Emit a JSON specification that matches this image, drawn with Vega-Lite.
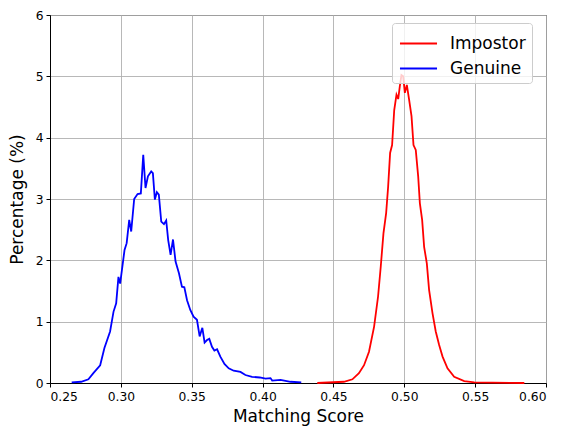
{
  "$schema": "https://vega.github.io/schema/vega-lite/v6.json",
  "autosize": "none",
  "width": 496,
  "height": 368,
  "padding": {"left": 50, "top": 15, "right": 22, "bottom": 53},
  "background": "white",
  "config": {
    "font": "DejaVu Sans",
    "view": {"stroke": "black", "strokeWidth": 1},
    "axis": {
      "gridColor": "#b0b0b0",
      "gridWidth": 0.9,
      "gridOpacity": 1,
      "domainColor": "black",
      "tickColor": "black",
      "tickSize": 4,
      "labelFontSize": 12.3,
      "labelColor": "black",
      "titleFontSize": 17,
      "titleFontWeight": "normal",
      "titleColor": "black"
    }
  },
  "data": {"values": [
    {"score": 0.2653, "pct": 0.01, "type": "Genuine"},
    {"score": 0.2720, "pct": 0.02, "type": "Genuine"},
    {"score": 0.2771, "pct": 0.06, "type": "Genuine"},
    {"score": 0.2806, "pct": 0.16, "type": "Genuine"},
    {"score": 0.2854, "pct": 0.29, "type": "Genuine"},
    {"score": 0.2884, "pct": 0.57, "type": "Genuine"},
    {"score": 0.2924, "pct": 0.84, "type": "Genuine"},
    {"score": 0.2948, "pct": 1.16, "type": "Genuine"},
    {"score": 0.2967, "pct": 1.30, "type": "Genuine"},
    {"score": 0.2983, "pct": 1.73, "type": "Genuine"},
    {"score": 0.2995, "pct": 1.62, "type": "Genuine"},
    {"score": 0.3026, "pct": 2.17, "type": "Genuine"},
    {"score": 0.3041, "pct": 2.28, "type": "Genuine"},
    {"score": 0.3059, "pct": 2.66, "type": "Genuine"},
    {"score": 0.3073, "pct": 2.47, "type": "Genuine"},
    {"score": 0.3094, "pct": 3.00, "type": "Genuine"},
    {"score": 0.3118, "pct": 3.08, "type": "Genuine"},
    {"score": 0.3141, "pct": 3.09, "type": "Genuine"},
    {"score": 0.3158, "pct": 3.72, "type": "Genuine"},
    {"score": 0.3174, "pct": 3.18, "type": "Genuine"},
    {"score": 0.3191, "pct": 3.37, "type": "Genuine"},
    {"score": 0.3214, "pct": 3.45, "type": "Genuine"},
    {"score": 0.3226, "pct": 3.42, "type": "Genuine"},
    {"score": 0.3240, "pct": 2.99, "type": "Genuine"},
    {"score": 0.3254, "pct": 3.11, "type": "Genuine"},
    {"score": 0.3268, "pct": 3.07, "type": "Genuine"},
    {"score": 0.3285, "pct": 2.63, "type": "Genuine"},
    {"score": 0.3304, "pct": 2.59, "type": "Genuine"},
    {"score": 0.3320, "pct": 2.65, "type": "Genuine"},
    {"score": 0.3334, "pct": 2.33, "type": "Genuine"},
    {"score": 0.3351, "pct": 2.09, "type": "Genuine"},
    {"score": 0.3368, "pct": 2.34, "type": "Genuine"},
    {"score": 0.3386, "pct": 1.98, "type": "Genuine"},
    {"score": 0.3410, "pct": 1.79, "type": "Genuine"},
    {"score": 0.3431, "pct": 1.57, "type": "Genuine"},
    {"score": 0.3448, "pct": 1.56, "type": "Genuine"},
    {"score": 0.3467, "pct": 1.35, "type": "Genuine"},
    {"score": 0.3490, "pct": 1.19, "type": "Genuine"},
    {"score": 0.3513, "pct": 1.08, "type": "Genuine"},
    {"score": 0.3537, "pct": 1.03, "type": "Genuine"},
    {"score": 0.3556, "pct": 0.76, "type": "Genuine"},
    {"score": 0.3575, "pct": 0.90, "type": "Genuine"},
    {"score": 0.3591, "pct": 0.66, "type": "Genuine"},
    {"score": 0.3608, "pct": 0.70, "type": "Genuine"},
    {"score": 0.3624, "pct": 0.72, "type": "Genuine"},
    {"score": 0.3643, "pct": 0.59, "type": "Genuine"},
    {"score": 0.3660, "pct": 0.53, "type": "Genuine"},
    {"score": 0.3679, "pct": 0.55, "type": "Genuine"},
    {"score": 0.3702, "pct": 0.43, "type": "Genuine"},
    {"score": 0.3731, "pct": 0.31, "type": "Genuine"},
    {"score": 0.3761, "pct": 0.24, "type": "Genuine"},
    {"score": 0.3796, "pct": 0.20, "type": "Genuine"},
    {"score": 0.3844, "pct": 0.18, "type": "Genuine"},
    {"score": 0.3879, "pct": 0.13, "type": "Genuine"},
    {"score": 0.3926, "pct": 0.10, "type": "Genuine"},
    {"score": 0.3980, "pct": 0.09, "type": "Genuine"},
    {"score": 0.4021, "pct": 0.07, "type": "Genuine"},
    {"score": 0.4056, "pct": 0.08, "type": "Genuine"},
    {"score": 0.4068, "pct": 0.04, "type": "Genuine"},
    {"score": 0.4127, "pct": 0.05, "type": "Genuine"},
    {"score": 0.4197, "pct": 0.02, "type": "Genuine"},
    {"score": 0.4273, "pct": 0.01, "type": "Genuine"},
    {"score": 0.4386, "pct": 0.00, "type": "Impostor"},
    {"score": 0.4574, "pct": 0.02, "type": "Impostor"},
    {"score": 0.4634, "pct": 0.06, "type": "Impostor"},
    {"score": 0.4680, "pct": 0.16, "type": "Impostor"},
    {"score": 0.4716, "pct": 0.29, "type": "Impostor"},
    {"score": 0.4751, "pct": 0.51, "type": "Impostor"},
    {"score": 0.4787, "pct": 0.92, "type": "Impostor"},
    {"score": 0.4815, "pct": 1.41, "type": "Impostor"},
    {"score": 0.4834, "pct": 1.90, "type": "Impostor"},
    {"score": 0.4853, "pct": 2.44, "type": "Impostor"},
    {"score": 0.4872, "pct": 2.77, "type": "Impostor"},
    {"score": 0.4886, "pct": 3.20, "type": "Impostor"},
    {"score": 0.4900, "pct": 3.75, "type": "Impostor"},
    {"score": 0.4914, "pct": 3.88, "type": "Impostor"},
    {"score": 0.4929, "pct": 4.45, "type": "Impostor"},
    {"score": 0.4945, "pct": 4.70, "type": "Impostor"},
    {"score": 0.4957, "pct": 4.63, "type": "Impostor"},
    {"score": 0.4968, "pct": 4.83, "type": "Impostor"},
    {"score": 0.4980, "pct": 5.02, "type": "Impostor"},
    {"score": 0.4992, "pct": 5.00, "type": "Impostor"},
    {"score": 0.5004, "pct": 4.73, "type": "Impostor"},
    {"score": 0.5018, "pct": 4.86, "type": "Impostor"},
    {"score": 0.5034, "pct": 4.62, "type": "Impostor"},
    {"score": 0.5051, "pct": 4.35, "type": "Impostor"},
    {"score": 0.5065, "pct": 3.88, "type": "Impostor"},
    {"score": 0.5081, "pct": 3.80, "type": "Impostor"},
    {"score": 0.5098, "pct": 3.37, "type": "Impostor"},
    {"score": 0.5110, "pct": 2.93, "type": "Impostor"},
    {"score": 0.5126, "pct": 2.66, "type": "Impostor"},
    {"score": 0.5140, "pct": 2.22, "type": "Impostor"},
    {"score": 0.5159, "pct": 1.95, "type": "Impostor"},
    {"score": 0.5175, "pct": 1.52, "type": "Impostor"},
    {"score": 0.5199, "pct": 1.14, "type": "Impostor"},
    {"score": 0.5222, "pct": 0.84, "type": "Impostor"},
    {"score": 0.5246, "pct": 0.62, "type": "Impostor"},
    {"score": 0.5270, "pct": 0.43, "type": "Impostor"},
    {"score": 0.5305, "pct": 0.24, "type": "Impostor"},
    {"score": 0.5352, "pct": 0.10, "type": "Impostor"},
    {"score": 0.5423, "pct": 0.03, "type": "Impostor"},
    {"score": 0.5494, "pct": 0.01, "type": "Impostor"},
    {"score": 0.5847, "pct": 0.00, "type": "Impostor"}
  ]},
  "mark": {"type": "line", "strokeWidth": 1.8, "interpolate": "linear"},
  "encoding": {
    "x": {
      "field": "score", "type": "quantitative",
      "scale": {"domain": [0.25, 0.6], "nice": false, "zero": false},
      "axis": {"title": "Matching Score", "values": [0.25, 0.3, 0.35, 0.4, 0.45, 0.5, 0.55, 0.6], "format": ".2f", "titlePadding": 6, "labelPadding": 3}
    },
    "y": {
      "field": "pct", "type": "quantitative",
      "scale": {"domain": [0, 6], "nice": false},
      "axis": {"title": "Percentage (%)", "values": [0, 1, 2, 3, 4, 5, 6], "titlePadding": 9, "labelPadding": 3}
    },
    "color": {
      "field": "type", "type": "nominal",
      "scale": {"domain": ["Impostor", "Genuine"], "range": ["#ff0000", "#0000ff"]},
      "legend": {
        "title": null,
        "orient": "none",
        "legendX": 342,
        "legendY": 8,
        "symbolType": "M-1.4,0H1.4",
        "symbolFillColor": "transparent",
        "symbolStrokeWidth": 1.8,
        "symbolSize": 700,
        "symbolOffset": 6,
        "labelFontSize": 17,
        "labelColor": "black",
        "labelOffset": 17,
        "rowPadding": 2,
        "fillColor": "rgba(255,255,255,0.8)",
        "strokeColor": "#cccccc",
        "cornerRadius": 3,
        "padding": 6
      }
    },
    "detail": {"field": "type"}
  }
}
